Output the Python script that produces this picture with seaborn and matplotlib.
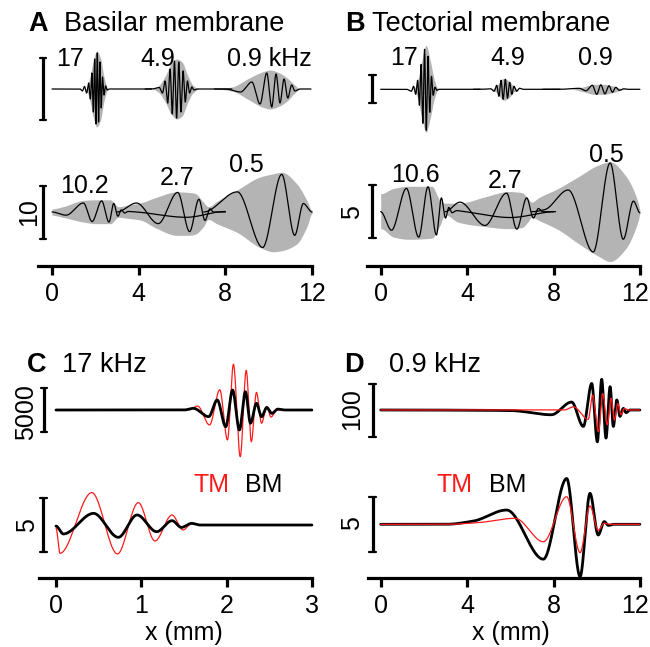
import numpy as np
import matplotlib
matplotlib.use("Agg")
import matplotlib.pyplot as plt
import matplotlib.transforms as mtransforms
import seaborn as sns

sns.set_theme(style="white", rc={"text.color": "black", "xtick.color": "black",
                                 "axes.edgecolor": "black"})
plt.rcParams["font.family"] = ["Liberation Sans", "DejaVu Sans"]

# ---------------- data (x in mm, y in trace units) ----------------
# Panel A, upper row (17, 4.9, 0.9 kHz), arbitrary units; scale bar = 62
a17_x = [0.00, 1.30, 1.40, 1.50, 1.60, 1.69, 1.77, 1.84, 1.91, 1.97, 2.03, 2.09, 2.15,
         2.21, 2.27, 2.33, 2.40, 2.47, 2.55, 2.65, 4.60]
a17_y = [0, 0, -2, 2.5, -4, 6, -10, 16, -23, 30, -35, 36, -33, 27, -19, 12, -6, 3, -1, 0, 0]
a49_x = [4.3, 4.6, 4.95, 5.10, 5.22, 5.34, 5.45, 5.55, 5.65, 5.75, 5.85, 5.95, 6.05,
         6.15, 6.25, 6.35, 6.45, 6.55, 6.70, 8.3]
a49_y = [0, 0, 1.5, -4, 8, -14, 20, -25, 28, -29, 27, -23, 18, -13, 8, -4, 2, -1, 0, 0]
a09_x = [7.5, 8.0, 8.7, 9.22, 9.60, 9.91, 10.14, 10.34, 10.52, 10.71, 10.88, 11.06,
         11.21, 11.44, 11.95]
a09_y = [0, 0, -3, 7, -15, 16, -18, 15, -14, 10, -9, 4, -2, 0, 0]
a_top_env_x = [0, 1.55, 1.75, 1.9, 2.07, 2.25, 2.4, 2.6, 4.6, 4.9, 5.2, 5.5, 5.75, 6.0,
               6.25, 6.5, 6.8, 7.6, 8.3, 9.1, 9.7, 10.06, 10.5, 10.85, 11.2, 11.45, 12]
a_top_env_hi = [0, 0, 12, 28, 38, 30, 12, 0, 0, 3, 12, 25, 30, 27, 14, 4, 0, 0, 2, 11,
                17, 19, 16, 11, 4, 0, 0]
a_top_env_lo = [0, 0, -12, -28, -38, -30, -12, 0, 0, -3, -12, -25, -30, -27, -14, -4, 0,
                0, -2, -11, -18, -20, -17, -12, -4, 0, 0]
a_top_bar = 62

# Panel A, lower row (10.2, 2.7, 0.5 kHz); scale bar = 10
a102_x = [0.0, 0.65, 1.45, 1.85, 2.29, 2.63, 2.85, 3.04, 3.2, 3.35, 3.5, 3.9, 6.2, 8.0]
a102_y = [0, -0.6, 1.7, -1.8, 2.1, -1.9, 1.6, -0.8, 0.4, -0.2, 0.1, 0, -1.0, 0.1]
a27_x = [3.0, 3.9, 4.9, 5.8, 6.35, 6.78, 7.06, 7.29, 7.45, 8.0]
a27_y = [0, 1.7, -2.2, 3.7, -3.7, 2.4, -1.6, 0.6, 0, 0]
a05_x = [7.0, 8.55, 9.72, 10.6, 11.2, 11.6, 12.0]
a05_y = [0, 3.8, -6.7, 7.1, -4.4, 1.6, 0.0]
a_bot_env_x = [0.0, 0.5, 1.46, 2.0, 2.69, 3.07, 3.5, 4.06, 4.83, 5.75, 6.3, 6.6, 6.98,
               7.21, 7.6, 8.52, 9.6, 10.2, 10.6, 11.3, 11.76, 12.0]
a_bot_env_hi = [0.6, 1.0, 2.2, 2.3, 2.3, 1.0, 1.3, 1.7, 2.8, 3.8, 3.7, 3.5, 1.9, 1.0,
                2.0, 4.1, 6.6, 7.2, 7.5, 5.3, 2.2, 0.3]
a_bot_env_lo = [-0.6, -1.0, -1.9, -2.2, -2.2, -1.0, -1.2, -1.5, -3.1, -4.4, -4.4, -4.2,
                -2.8, -1.4, -2.2, -3.8, -6.7, -7.5, -7.3, -6.0, -2.8, -0.3]
a_bot_bar = 10

# Panel B, upper row; scale bar = 28 (arbitrary units)
b17_x = [0.0, 1.20, 1.42, 1.52, 1.62, 1.71, 1.79, 1.87, 1.95, 2.03, 2.11, 2.19, 2.27,
         2.35, 2.43, 2.51, 2.60, 2.70, 4.6]
b17_y = [0, 0, -2, 3, -5, 9, -16, 25, -34, 40, -41, 33, -23, 13, -6, 2, -1, 0, 0]
b49_x = [4.3, 4.6, 5.10, 5.25, 5.37, 5.47, 5.57, 5.67, 5.77, 5.87, 5.97, 6.07, 6.17,
         6.29, 6.43, 6.6, 8.3]
b49_y = [0, 0, 0.5, -2, 4, -7, 9, -10, 10, -9, 7, -5, 3, -2, 1, 0, 0]
b09_x = [7.5, 8.3, 9.2, 9.5, 9.8, 10.0, 10.19, 10.38, 10.57, 10.73, 10.88, 11.05, 11.25,
         11.45, 12.0]
b09_y = [0, 0, 1, -1.5, 4, -5, 4.5, -4.5, 3.5, -3, 2, -1, 0.5, 0, 0]
b_top_env_x = [0, 1.5, 1.7, 1.9, 2.1, 2.3, 2.5, 2.68, 5.1, 5.3, 5.5, 5.7, 5.95, 6.2,
               6.4, 8.8, 9.3, 9.9, 10.3, 10.8, 11.2, 11.45, 12]
b_top_env_hi = [0, 0, 8, 28, 44, 28, 8, 0, 0, 2, 7, 11, 8, 2, 0, 0, 2, 5, 5, 3, 0.5, 0, 0]
b_top_env_lo = [0, 0, -8, -28, -43, -28, -8, 0, 0, -2, -7, -11, -8, -2, 0, 0, -2, -5,
                -5, -3, -0.5, 0, 0]
b_top_bar = 28

# Panel B, lower row (10.6, 2.7, 0.5 kHz); scale bar = 5
b106_x = [0.0, 0.5, 1.19, 1.76, 2.19, 2.58, 2.81, 3.0, 3.15, 3.3, 3.5, 3.9, 6.0, 8.1]
b106_y = [0, -1.75, 2.2, -2.4, 2.35, -2.2, 1.3, -0.6, 0.4, -0.1, 0.1, 0, -0.55, 0]
b27_x = [2.98, 3.67, 4.83, 5.83, 6.3, 6.76, 7.07, 7.3, 7.5, 8.0]
b27_y = [0, 0.9, -1.3, 1.75, -1.65, 1.3, -0.6, 0.3, 0, 0]
b05_x = [7.0, 7.6, 8.68, 9.84, 10.62, 11.23, 11.7, 12.0]
b05_y = [0, 0.2, 2.05, -3.8, 4.6, -2.6, 1.0, -0.1]
b_bot_env_x = [0.0, 0.6, 1.28, 2.36, 2.74, 2.98, 3.6, 4.83, 5.91, 6.53, 6.84, 6.99,
               7.3, 8.22, 9.15, 10.08, 10.62, 11.3, 11.93, 12.0]
b_bot_env_hi = [1.7, 2.2, 2.4, 2.4, 1.1, 0.8, 0.8, 1.4, 1.9, 1.8, 1.2, 0.9, 1.3, 2.2,
                3.3, 4.4, 4.7, 3.5, 0.8, 0.2]
b_bot_env_lo = [-1.6, -2.4, -2.6, -2.5, -1.3, -0.3, -1.0, -1.4, -1.6, -1.5, -0.9, -0.5,
                -0.8, -1.7, -3.0, -4.2, -4.7, -3.6, -0.8, -0.2]
b_bot_bar = 5

# Panel C (17 kHz): TM (red) and BM (black)
c_bm_top_x = [0.0, 1.5, 1.61, 1.79, 1.89, 1.99, 2.07, 2.15, 2.22, 2.28, 2.35, 2.41, 2.47,
              2.53, 2.60, 2.68, 3.0]
c_bm_top_y = [0, 0, 190, -760, 1140, -1900, 2270, -2270, 2080, -1500, 760, -760, 280,
              -380, 100, 0, 0]
c_tm_top_x = [0.0, 1.55, 1.66, 1.80, 1.92, 2.01, 2.08, 2.16, 2.23, 2.29, 2.35, 2.41,
              2.47, 2.52, 2.59, 3.0]
c_tm_top_y = [0, 0, 450, -1700, 2300, -3400, 5200, -5300, 4500, -3600, 2000, -1500, 400,
              -800, 0, 0]
c_top_bar = 5000
c_bm_bot_x = [0.0, 0.086, 0.44, 0.73, 0.95, 1.18, 1.36, 1.47, 1.59, 1.69, 3.0]
c_bm_bot_y = [-0.1, -0.83, 1.08, -1.14, 0.93, -0.62, 0.4, -0.22, 0.15, 0, 0]
c_tm_bot_x = [0.0, 0.047, 0.42, 0.72, 0.965, 1.16, 1.36, 1.49, 1.59, 1.7, 3.0]
c_tm_bot_y = [-0.3, -2.62, 3.0, -2.68, 2.07, -1.48, 0.93, -0.46, 0.15, 0, 0]
c_bot_bar = 5

# Panel D (0.9 kHz)
d_bm_top_x = [0.0, 6.0, 7.9, 8.84, 9.38, 9.77, 10.03, 10.23, 10.43, 10.62, 10.77, 10.93,
              11.08, 11.23, 11.36, 11.54, 12.0]
d_bm_top_y = [0, -1, -9, 15, -31, 50, -60, 58, -53, 44, -31, 19, -12, 3, -5, 0, 0]
d_tm_top_x = [0.0, 8.5, 8.92, 9.61, 9.81, 10.08, 10.28, 10.49, 10.66, 10.82, 10.97,
              11.13, 11.28, 11.46, 12.0]
d_tm_top_y = [0, 0, 6, -17.6, 28, -41, 31, -28, 22, -19, 12, -9, 3, 0, 0]
d_top_bar = 100
d_bm_bot_x = [0.0, 3.0, 4.3, 5.83, 7.53, 8.61, 9.23, 9.69, 10.07, 10.35, 10.54, 10.8, 12.0]
d_bm_bot_y = [0, 0, 0.3, 1.31, -3.2, 4.2, -4.8, 2.84, -0.98, 0.25, -0.1, 0, 0]
d_tm_bot_x = [0.0, 3.0, 4.5, 6.22, 7.53, 8.61, 9.23, 9.69, 10.07, 10.35, 10.6, 12.0]
d_tm_bot_y = [0, 0, 0.15, 0.55, -1.6, 2.53, -2.6, 1.68, -0.55, 0.1, 0, 0]
d_bot_bar = 5

ticks_12 = [0, 4, 8, 12]
ticks_3 = [0, 1, 2, 3]

# ---------------- drawing helpers ----------------
W, H = 650, 647
fig = plt.figure(figsize=(6.5, 6.47), dpi=100)
GRAY = "#b4b4b4"
RED = "#ff1a1a"
TS, NS = 19.5, 18


def pchip(xk, yk, xs):
    xk = np.asarray(xk, float); yk = np.asarray(yk, float)
    h = np.diff(xk); d = np.diff(yk) / h
    m = np.zeros_like(yk)
    for i in range(1, len(xk) - 1):
        if d[i - 1] * d[i] > 0:
            w1 = 2 * h[i] + h[i - 1]; w2 = h[i] + 2 * h[i - 1]
            m[i] = (w1 + w2) / (w1 / d[i - 1] + w2 / d[i])
    idx = np.clip(np.searchsorted(xk, xs, side="right") - 1, 0, len(xk) - 2)
    t = (xs - xk[idx]) / h[idx]
    h00 = 2 * t**3 - 3 * t**2 + 1; h10 = t**3 - 2 * t**2 + t
    h01 = -2 * t**3 + 3 * t**2; h11 = t**3 - t**2
    return h00 * yk[idx] + h10 * h[idx] * m[idx] + h01 * yk[idx + 1] + h11 * h[idx] * m[idx + 1]


def row_ax(px0, ppm, xlo, xhi, base_py, ppu, half=80):
    left = px0 + xlo * ppm; right = px0 + xhi * ppm
    ax = fig.add_axes([left / W, 1 - (base_py + half) / H, (right - left) / W, 2 * half / H])
    ax.set_xlim(xlo, xhi); ax.set_ylim(-half / ppu, half / ppu)
    ax.axis("off")
    return ax


def trace(ax, xk, yk, color="black", lw=0.9, z=3, n=4000):
    xs = np.linspace(xk[0], xk[-1], n)
    sns.lineplot(x=xs, y=pchip(xk, yk, xs), ax=ax, color=color, linewidth=lw,
                 estimator=None, sort=False, zorder=z)


def envelope(ax, xk, hi, lo, n=3000):
    xs = np.linspace(xk[0], xk[-1], n)
    ax.fill_between(xs, pchip(xk, hi, xs), pchip(xk, lo, xs), color=GRAY, lw=0, zorder=1)


def scalebar(ax, x, length, cap):
    hl = length / 2
    ax.plot([x, x], [-hl, hl], color="black", lw=2.3, solid_capstyle="butt", clip_on=False)
    for yy in (-hl, hl):
        ax.plot([x - cap, x + cap], [yy, yy], color="black", lw=1.6, clip_on=False)


def ftext(px, py, s, **kw):
    fig.text(px / W, 1 - py / H, s, **kw)


def xaxis(px0, ppm, xlo, xhi, py, bounds, ticks, last_shift=0):
    left = px0 + xlo * ppm; right = px0 + xhi * ppm
    ax = fig.add_axes([left / W, 1 - py / H, (right - left) / W, 0.02])
    ax.set_xlim(xlo, xhi)
    for s in ["top", "left", "right"]:
        ax.spines[s].set_visible(False)
    ax.spines["bottom"].set_bounds(*bounds)
    ax.spines["bottom"].set_linewidth(2.3)
    ax.spines["bottom"].set_color("black")
    ax.set_xticks(ticks)
    ax.set_xticklabels([str(t) for t in ticks])
    ax.set_yticks([])
    ax.tick_params(axis="x", direction="out", bottom=True, length=6.5, width=2.3,
                   labelsize=NS, pad=5, colors="black")
    ax.patch.set_alpha(0)
    if last_shift:
        lab = ax.get_xticklabels()[-1]
        lab.set_transform(lab.get_transform() + mtransforms.ScaledTranslation(
            last_shift / 100, 0, fig.dpi_scale_trans))
    return ax


# ---------------- panel A ----------------
A0, AP = 52.0, 21.67
ax = row_ax(A0, AP, -1.3, 12.4, 89, 1.0)
envelope(ax, a_top_env_x, a_top_env_hi, a_top_env_lo)
for xk, yk in [(a17_x, a17_y), (a49_x, a49_y), (a09_x, a09_y)]:
    trace(ax, xk, yk, lw=0.9)
scalebar(ax, -0.415, a_top_bar, 0.16)

ax = row_ax(A0, AP, -1.3, 12.4, 212, 5.3)
envelope(ax, a_bot_env_x, a_bot_env_hi, a_bot_env_lo)
for xk, yk in [(a102_x, a102_y), (a27_x, a27_y), (a05_x, a05_y)]:
    trace(ax, xk, yk, lw=0.9)
scalebar(ax, -0.415, a_bot_bar, 0.16)
xaxis(A0, AP, -1.3, 12.4, 266, (-0.65, 12), ticks_12)

# ---------------- panel B ----------------
B0, BP = 380.7, 21.6
ax = row_ax(B0, BP, -1.3, 12.4, 89.3, 1.0)
envelope(ax, b_top_env_x, b_top_env_hi, b_top_env_lo)
for xk, yk in [(b17_x, b17_y), (b49_x, b49_y), (b09_x, b09_y)]:
    trace(ax, xk, yk, lw=0.9)
scalebar(ax, -0.40, b_top_bar, 0.16)

ax = row_ax(B0, BP, -1.3, 12.4, 211.7, 10.6)
envelope(ax, b_bot_env_x, b_bot_env_hi, b_bot_env_lo)
for xk, yk in [(b106_x, b106_y), (b27_x, b27_y), (b05_x, b05_y)]:
    trace(ax, xk, yk, lw=0.9)
scalebar(ax, -0.40, b_bot_bar, 0.16)
xaxis(B0, BP, -1.3, 12.4, 266, (-0.65, 12), ticks_12, last_shift=-5)

# ---------------- panel C ----------------
C0, CP = 56.0, 85.3
ax = row_ax(C0, CP, -0.35, 3.1, 410, 44 / 5000)
trace(ax, c_tm_top_x, c_tm_top_y, color=RED, lw=0.9, z=3)
trace(ax, c_bm_top_x, c_bm_top_y, color="black", lw=2.0, z=4)
scalebar(ax, -0.14, c_top_bar, 0.04)

ax = row_ax(C0, CP, -0.35, 3.1, 525, 10.8)
trace(ax, c_tm_bot_x, c_tm_bot_y, color=RED, lw=0.9, z=3)
trace(ax, c_bm_bot_x, c_bm_bot_y, color="black", lw=2.0, z=4)
scalebar(ax, -0.15, c_bot_bar, 0.04)
xaxis(C0, CP, -0.35, 3.1, 578.3, (-0.2, 3), ticks_3)

# ---------------- panel D ----------------
D0, DP = 380.7, 21.6
ax = row_ax(D0, DP, -1.3, 12.4, 410, 0.53)
trace(ax, d_bm_top_x, d_bm_top_y, color="black", lw=2.0, z=3)
trace(ax, d_tm_top_x, d_tm_top_y, color=RED, lw=0.9, z=4)
scalebar(ax, -0.36, d_top_bar, 0.16)

ax = row_ax(D0, DP, -1.3, 12.4, 524.3, 10.9)
trace(ax, d_bm_bot_x, d_bm_bot_y, color="black", lw=2.0, z=3)
trace(ax, d_tm_bot_x, d_tm_bot_y, color=RED, lw=0.9, z=4)
scalebar(ax, -0.36, d_bot_bar, 0.16)
xaxis(D0, DP, -1.3, 12.4, 578.3, (-0.6, 12), ticks_12, last_shift=-5)

# ---------------- text ----------------
ftext(38, 30.7, "A", fontsize=TS, fontweight="bold", ha="center", va="baseline")
ftext(64, 30.7, "Basilar membrane", fontsize=TS, ha="left", va="baseline")
ftext(355, 30.7, "B", fontsize=TS, fontweight="bold", ha="center", va="baseline")
ftext(372, 30.7, "Tectorial membrane", fontsize=TS, ha="left", va="baseline")
ftext(37, 372.5, "C", fontsize=TS, fontweight="bold", ha="center", va="baseline")
ftext(62, 372.5, "17 kHz", fontsize=TS, ha="left", va="baseline")
ftext(354, 372.5, "D", fontsize=TS, fontweight="bold", ha="center", va="baseline")
ftext(389, 372.5, "0.9 kHz", fontsize=TS, ha="left", va="baseline")

for px, py, s in [(69.5, 65.7, "17"), (157.5, 65.7, "4.9"), (269.5, 65.7, "0.9 kHz"),
                  (404, 65, "17"), (508, 65, "4.9"), (595, 65, "0.9"),
                  (84, 193.3, "10.2"), (176.7, 185, "2.7"), (246, 172.3, "0.5"),
                  (415.8, 181.7, "10.6"), (505, 188.3, "2.7"), (606, 161.7, "0.5")]:
    ftext(px, py, s, fontsize=NS, ha="center", va="baseline")

for px, py, s in [(29, 212, "10"), (352, 212, "5"), (26, 412, "5000"), (27, 525, "5"),
                  (352, 409, "100"), (352, 523, "5")]:
    ftext(px, py, s, fontsize=NS, ha="center", va="center", rotation=90)

ftext(212, 492, "TM", fontsize=NS, color=RED, ha="center", va="baseline")
ftext(264, 492, "BM", fontsize=NS, ha="center", va="baseline")
ftext(455, 492, "TM", fontsize=NS, color=RED, ha="center", va="baseline")
ftext(508, 492, "BM", fontsize=NS, ha="center", va="baseline")
ftext(184, 633, "x (mm)", fontsize=NS, ha="center", va="center")
ftext(510.5, 633, "x (mm)", fontsize=NS, ha="center", va="center")

fig.savefig("out.png", dpi=100)
